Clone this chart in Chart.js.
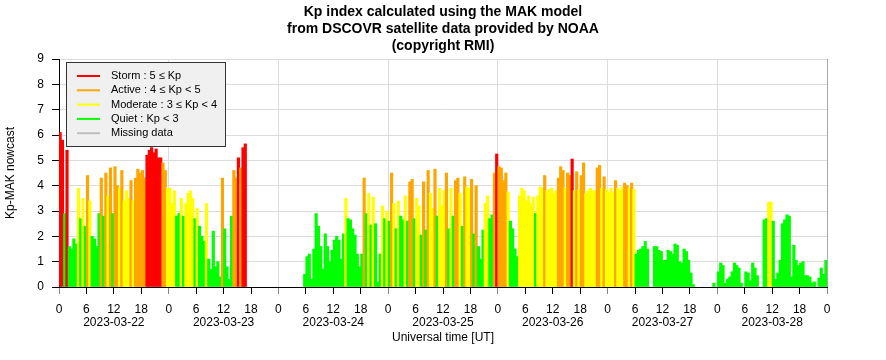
<!DOCTYPE html>
<html><head><meta charset="utf-8">
<script src="https://cdn.jsdelivr.net/npm/chart.js@4/dist/chart.umd.min.js"></script>
<style>html,body{margin:0;padding:0;background:#fff;}#wrap{width:886px;height:360px;}</style>
</head><body><div id="wrap"><canvas id="c" width="886" height="360"></canvas></div>
<script>
// ---- data (30-minute bins, Kp-MAK nowcast) ----
const titleLines = ['Kp index calculated using the MAK model', 'from DSCOVR satellite data provided by NOAA', '(copyright RMI)'];
const dayLabels = ['2023-03-22', '2023-03-23', '2023-03-24', '2023-03-25', '2023-03-26', '2023-03-27', '2023-03-28'];
const hourTicks = [0, 6, 12, 18];
const yTickValues = [0, 1, 2, 3, 4, 5, 6, 7, 8, 9];
const xTitle = 'Universal time [UT]';
const yTitle = 'Kp-MAK nowcast';
const legendLabels = ['Storm : 5 \u2264 Kp', 'Active : 4 \u2264 Kp < 5', 'Moderate : 3 \u2264 Kp < 4', 'Quiet : Kp < 3', 'Missing data'];
const legendColors = ['#ff0000', '#ffa500', '#ffff00', '#00ff00', '#bebebe'];

const kp_0322 = [6.1, 5.8, 2.9, 5.4, 1.6, 1.5, 1.9, 1.7, 3.9, 2.7, 3.5, 2.4, 4.4, 3.4, 2.0, 1.9, 1.6, 2.9, 4.3, 2.8, 4.5, 3.6, 4.7, 2.9,
                 4.75, 4.0, 3.9, 4.6, 3.4, 3.8, 3.5, 4.2, 3.4, 4.3, 4.65, 4.5, 4.6, 4.3, 5.2, 5.4, 5.5, 5.3, 5.45, 5.1, 5.1, 4.9, 4.6, 3.9];
const kp_0323 = [3.9, 3.3, 3.8, 2.8, 2.9, 3.5, 2.8, 3.3, 3.7, 3.8, 3.5, 2.7, 3.1, 2.4, 2.0, 1.8, 3.3, 1.1, 0.7, 2.2, 0.8, 1.0, 0.4, 4.3,
                 2.3, 0.8, 0.3, 2.8, 4.6, 4.3, 5.1, 4.7, 5.5, 5.65, null, null, null, null, null, null, null, null, null, null, null, null, null, null];
const kp_0324 = [null, null, null, null, null, null, null, null, null, null, null, 0.5, 1.2, 1.3, 0.3, 1.5, 2.9, 2.4, 1.6, 0.7, 2.1, 1.6, 1.0, 1.45,
                 1.85, 2.0, 1.85, 1.1, 2.1, 3.5, 2.7, 2.65, 2.3, 2.05, 1.3, 0.8, 1.3, 4.3, 2.9, 3.7, 2.45, 3.55, 2.5, 0.2, 1.3, 3.2, 2.7, 3.0];
const kp_0325 = [2.6, 4.5, 3.3, 2.3, 3.4, 2.8, 2.65, 3.6, 2.6, 4.15, 4.25, 2.7, 3.5, 3.2, 2.05, 4.15, 2.25, 4.6, 3.7, 3.1, 4.65, 2.8, 3.9, 3.2,
                 3.8, 4.5, 2.3, 3.9, 2.8, 4.2, 4.3, 3.7, 2.4, 4.35, 3.95, 3.9, 4.25, 2.1, 4.0, 1.6, 1.1, 2.25, 3.3, 3.6, 2.7, 2.85, 4.5, 5.25];
const kp_0326 = [4.75, 4.7, 4.2, 4.5, 3.75, 2.6, 2.3, 1.5, 1.2, 3.6, 3.9, 3.8, 3.4, 3.6, 3.3, 3.55, 2.9, 3.6, 3.95, 3.9, 4.4, 3.8, 3.85, 3.9,
                 3.7, 3.8, 4.3, 4.75, 4.6, 3.9, 4.5, 4.4, 5.05, 3.8, 4.55, 3.85, 4.4, 4.9, 3.7, 3.8, 3.9, 3.8, 3.8, 4.7, 4.8, 3.9, 4.35, 3.85];
const kp_0327 = [3.75, 3.9, 3.75, 4.2, 3.9, 3.8, 3.95, 4.1, 4.0, 3.9, 4.1, 3.85, 1.3, 1.45, 1.5, 1.6, 1.8, 1.5, null, null, 1.6, 1.6, 1.45, 1.4,
                 1.05, 1.05, 1.45, 1.4, 1.3, 1.7, 1.65, 1.0, 0.95, 1.5, 1.4, 1.05, 0.55, 0.1, null, null, null, null, null, null, null, null, 0.15, null];
const kp_0328 = [0.6, 0.95, 0.85, 0.15, 0.3, 0.4, 0.6, 0.95, 0.85, 0.75, 0.15, null, 0.6, 0.55, 0.25, 0.95, 0.75, 0.45, null, null, 2.65, 2.7, 3.35, 3.35,
                 2.6, 0.3, 0.55, 1.05, 2.5, 2.65, 2.85, 2.8, 0.4, 1.65, 1.05, 0.85, 0.95, 1.0, 0.45, 0.45, 0.4, 0.15, 0.2, null, 0.35, 0.75, 0.5, 1.05];

const FONT = '"Liberation Sans", Arial, Helvetica, sans-serif';
const allKp = [].concat(kp_0322, kp_0323, kp_0324, kp_0325, kp_0326, kp_0327, kp_0328);
const binHours = 0.5;
const points = allKp.map((v, i) => ({ x: i * binHours + binHours / 2, y: v }));
const totalHours = dayLabels.length * 24;

function kpColor(v) {
  if (v >= 5) return legendColors[0];
  if (v >= 4) return legendColors[1];
  if (v >= 3) return legendColors[2];
  return legendColors[3];
}

const overlay = {
  id: 'overlay',
  afterDraw(chart) {
    const { ctx, chartArea: a } = chart;
    const xs = chart.scales.x;
    const cx = (a.left + a.right) / 2;
    ctx.save();
    ctx.fillStyle = '#000';
    ctx.textAlign = 'center';
    ctx.textBaseline = 'middle';
    ctx.font = 'bold 14px ' + FONT;
    titleLines.forEach((t, i) => ctx.fillText(t, cx, 12.5 + i * 17));
    ctx.font = '12px ' + FONT;
    dayLabels.forEach((d, i) => ctx.fillText(d, xs.getPixelForValue(i * 24 + 12), 323));
    ctx.fillText(xTitle, cx, 338);
    ctx.save();
    ctx.translate(11, (a.top + a.bottom) / 2);
    ctx.rotate(-Math.PI / 2);
    ctx.fillText(yTitle, 0, 0);
    ctx.restore();
    // legend box
    const lx = a.left + 7, ly = a.top + 3, lw = 160, lh = 85;
    ctx.fillStyle = '#f0f0f0';
    ctx.fillRect(lx, ly, lw, lh);
    ctx.strokeStyle = '#333';
    ctx.lineWidth = 1;
    ctx.strokeRect(lx + 0.5, ly + 0.5, lw - 1, lh - 1);
    ctx.font = '11px ' + FONT;
    ctx.textAlign = 'left';
    legendLabels.forEach((t, i) => {
      const y = ly + 14 + i * 14.3;
      ctx.strokeStyle = legendColors[i];
      ctx.lineWidth = 2;
      ctx.beginPath();
      ctx.moveTo(lx + 11, y);
      ctx.lineTo(lx + 34, y);
      ctx.stroke();
      ctx.fillStyle = '#000';
      ctx.fillText(t, lx + 45, y);
    });
    ctx.restore();
  }
};

new Chart(document.getElementById('c'), {
  type: 'bar',
  data: {
    datasets: [{
      data: points,
      backgroundColor: c => kpColor(c.raw ? c.raw.y : 0),
      borderWidth: 0,
      barThickness: 'flex',
      barPercentage: 1.1,
      categoryPercentage: 1
    }]
  },
  options: {
    responsive: false,
    animation: false,
    devicePixelRatio: 1,
    layout: { padding: { top: 59, right: 59, left: 0, bottom: 0 } },
    plugins: { legend: { display: false }, title: { display: false }, tooltip: { enabled: false } },
    scales: {
      x: {
        type: 'linear', min: 0, max: totalHours, offset: false,
        afterBuildTicks: s => {
          const t = [];
          for (let d = 0; d <= dayLabels.length; d++) {
            hourTicks.forEach(h => { const v = d * 24 + h; if (v <= totalHours) t.push({ value: v }); });
          }
          s.ticks = t;
        },
        ticks: {
          autoSkip: false, maxRotation: 0, minRotation: 0, color: '#000', padding: 8,
          font: { family: FONT, size: 12 },
          callback: v => String(v % 24)
        },
        grid: {
          offset: false, tickLength: 7,
          color: c => (c.tick && c.tick.value % 24 === 0) ? (c.tick.value === totalHours ? '#a8a8a8' : '#dcdcdc') : 'rgba(0,0,0,0)',
          tickColor: c => (c.tick && c.tick.value % 24 === 0) ? '#888' : '#000'
        },
        border: { color: '#000', width: 1 },
        afterFit: s => { s.height = 73; }
      },
      y: {
        min: 0, max: 9,
        afterBuildTicks: s => { s.ticks = yTickValues.map(v => ({ value: v })); },
        ticks: { color: '#000', padding: 8, font: { family: FONT, size: 12 } },
        grid: { color: '#dcdcdc', tickColor: '#000', tickLength: 7 },
        border: { color: '#000', width: 1 },
        afterFit: s => { s.width = 59; }
      }
    }
  },
  plugins: [overlay]
});
</script></body></html>
